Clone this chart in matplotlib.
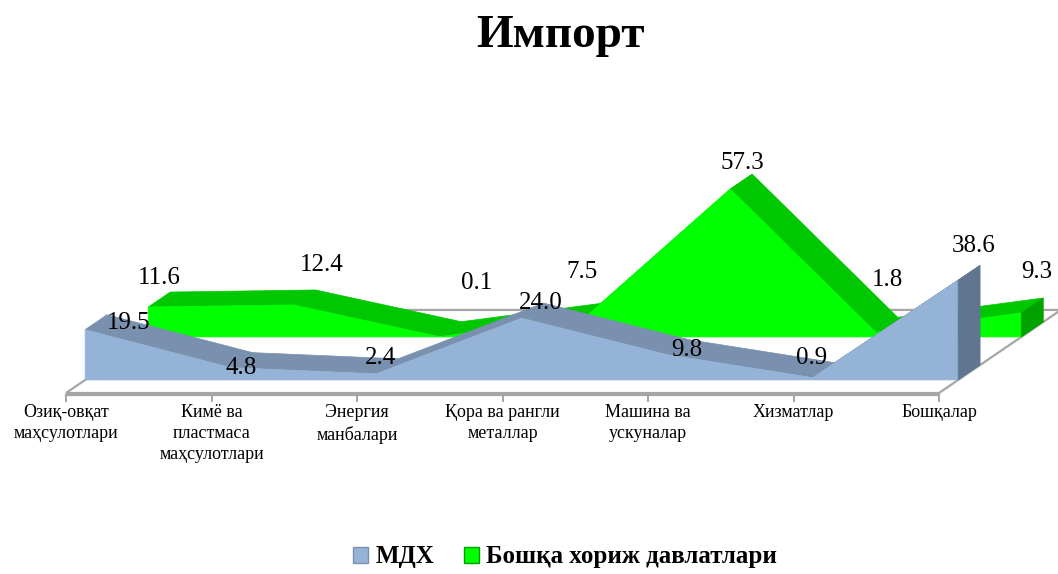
import matplotlib.pyplot as plt
from matplotlib.patches import Polygon, Patch

categories = ["Озиқ-овқат\nмаҳсулотлари", "Кимё ва\nпластмаса\nмаҳсулотлари",
              "Энергия\nманбалари", "Қора ва рангли\nметаллар", "Машина ва\nускуналар",
              "Хизматлар", "Бошқалар"]
mdh = [19.5, 4.8, 2.4, 24.0, 9.8, 0.9, 38.6]
other = [11.6, 12.4, 0.1, 7.5, 57.3, 1.8, 9.3]
series_names = ["МДХ", "Бошқа хориж давлатлари"]

# label nudges in pixels (Excel puts 3d labels a bit anywhere)
mdh_off = [(33, -1), (0, -8), (-7, 8), (8, 8), (9, -3), (-12, 12), (5, 27)]
other_off = [(0, 22), (17, 32), (26, 46), (-14, 38), (1, 19), (1, 45), (5, 33)]

plt.rcParams['font.family'] = ['Liberation Serif', 'DejaVu Serif']

# oblique "3d": depth d in 0..1 shifts x by DX categories and y by DY value units
DX = 0.838
DY = 32.2
PX_X = 145.5   # pixels per category
PX_Y = 2.58    # pixels per value unit


def proj(i, v, d):
    return (i + d * DX, v + d * DY)


fig = plt.figure(figsize=(10.58, 5.74), dpi=100)
ax = fig.add_axes([0, 0, 1, 1])
ax.set_xlim(-66 / PX_X, (1058 - 66) / PX_X)
ax.set_ylim((393 - 574) / PX_Y, 393 / PX_Y)
ax.axis('off')

n = len(categories)

# floor
floor = [proj(0, 0, 0), proj(n - 1, 0, 0), proj(n - 1, 0, 1), proj(0, 0, 1)]
ax.add_patch(Polygon(floor, closed=True, facecolor='white', edgecolor='#a6a6a6', lw=1.6, zorder=1))
fx = [p[0] for p in floor[:2]]
fy = [p[1] - 0.8 for p in floor[:2]]
ax.plot(fx, fy, color='#a6a6a6', lw=1.6, zorder=1)
for i in range(n):
    ax.plot([i, i], [-0.8, -3.0], color='#a6a6a6', lw=1.4, zorder=1)


def area3d(vals, d0, d1, c_front, c_top, c_end, z):
    for i in range(n - 1):
        quad = [proj(i, vals[i], d0), proj(i + 1, vals[i + 1], d0),
                proj(i + 1, vals[i + 1], d1), proj(i, vals[i], d1)]
        ax.add_patch(Polygon(quad, closed=True, facecolor=c_top, edgecolor=c_top, lw=0.5, zorder=z))
    front = [proj(0, 0, d0)] + [proj(i, v, d0) for i, v in enumerate(vals)] + [proj(n - 1, 0, d0)]
    ax.add_patch(Polygon(front, closed=True, facecolor=c_front, edgecolor=c_front, lw=0.5, zorder=z + 1))
    end = [proj(n - 1, 0, d0), proj(n - 1, vals[-1], d0), proj(n - 1, vals[-1], d1), proj(n - 1, 0, d1)]
    ax.add_patch(Polygon(end, closed=True, facecolor=c_end, edgecolor=c_end, lw=0.5, zorder=z + 1))


area3d(other, 0.675, 0.855, '#00ff00', '#00c800', '#00a200', 2)
area3d(mdh, 0.157, 0.337, '#95b3d7', '#7990ae', '#5f7590', 4)

for vals, d, offs in [(other, 0.765, other_off), (mdh, 0.247, mdh_off)]:
    for i, v in enumerate(vals):
        ax.annotate(f"{v:.1f}", proj(i, v, d), xytext=offs[i], textcoords='offset pixels',
                    ha='center', va='center', fontsize=18, zorder=10)

for i, lab in enumerate(categories):
    ax.text(i, -4.4, lab, ha='center', va='top', fontsize=13, linespacing=1.3)

fig.text(0.530, 0.937, "Импорт", ha='center', va='center', fontsize=34, fontweight='bold')

handles = [Patch(facecolor='#95b3d7', edgecolor='#7990ae'),
           Patch(facecolor='#00ff00', edgecolor='#00a200')]
fig.legend(handles, series_names, loc='center', bbox_to_anchor=(565 / 1058, 1 - 557 / 574),
           ncol=2, frameon=False, prop={'weight': 'bold', 'size': 18},
           handlelength=0.6, handleheight=0.6, handletextpad=0.3, columnspacing=1.2)

fig.savefig('out.png', dpi=100)
